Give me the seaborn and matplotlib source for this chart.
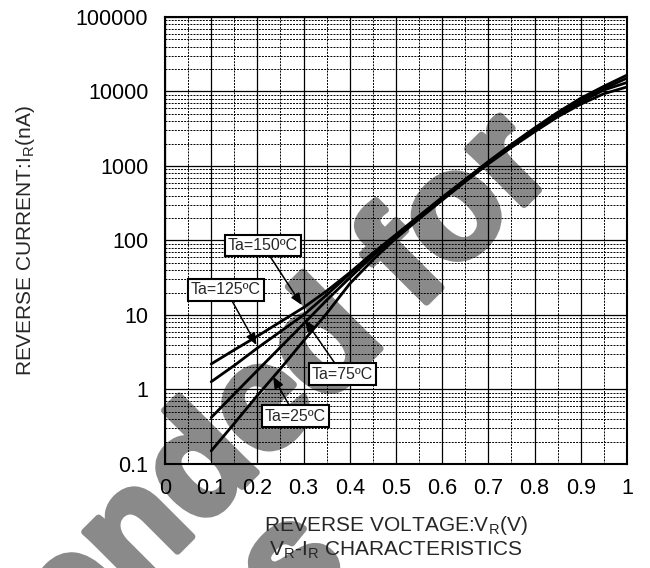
import seaborn as sns
import matplotlib.pyplot as plt
import matplotlib.patheffects as pe
import pandas as pd
import numpy as np
from matplotlib.ticker import MultipleLocator, LogLocator, FuncFormatter, NullFormatter

sns.set_style("white")
plt.rcParams['font.family'] = ['Liberation Sans', 'DejaVu Sans']
plt.rcParams['mathtext.fontset'] = 'custom'
plt.rcParams['mathtext.rm'] = 'Liberation Sans'

# reverse voltage (V) and reverse current (nA)
vr = [0.1, 0.15, 0.2, 0.25, 0.3, 0.35, 0.4, 0.45, 0.5, 0.55,
      0.6, 0.65, 0.7, 0.75, 0.8, 0.85, 0.9, 0.95, 1.0]
ir_150 = [2.2, 3.4, 5.2, 8.1, 12.6, 21, 37, 68, 120, 214,
          380, 660, 1150, 1950, 3240, 5250, 8130, 11750, 16600]
ir_125 = [1.27, 2.1, 3.6, 6.0, 10.0, 18.6, 35.5, 65, 117, 209,
          372, 646, 1120, 1900, 3090, 5010, 7590, 10960, 15100]
ir_75 = [0.42, 0.87, 1.8, 3.7, 7.6, 15.8, 31.6, 62, 112, 204,
         363, 631, 1100, 1860, 3020, 4790, 7240, 10470, 13200]
ir_25 = [0.15, 0.35, 0.83, 1.9, 4.5, 10.5, 26.3, 55, 107, 195,
         347, 617, 1070, 1780, 2880, 4570, 6760, 9330, 11500]

temps = ["Ta=150ºC", "Ta=125ºC", "Ta=75ºC", "Ta=25ºC"]
df = pd.concat([
    pd.DataFrame({"VR": vr, "IR": ir, "Ta": t})
    for t, ir in zip(temps, [ir_150, ir_125, ir_75, ir_25])
])

fig = plt.figure(figsize=(6.5, 5.68), dpi=100)
ax = fig.add_axes([0.2538, 0.1831, 0.7108, 0.787])
ax.set_facecolor("none")

# watermark behind the grid
wm = dict(fontsize=108, fontweight="bold", color="#8a8a8a", rotation=45,
          rotation_mode="anchor", ha="right", va="baseline", zorder=-5,
          family="Liberation Sans",
          path_effects=[pe.withStroke(linewidth=5, foreground="#8a8a8a")])
fig.text(0.858, 0.699, "Not Recommended for", **wm)
fig.text(0.54, 0.005, "New Designs", **wm)

sns.lineplot(data=df, x="VR", y="IR", hue="Ta", units="Ta", estimator=None,
             palette=["black"] * 4, linewidth=2, legend=False, ax=ax,
             zorder=3)

ax.set_yscale("log")
ax.set_xlim(0, 1)
ax.set_ylim(0.1, 100000)
ax.xaxis.set_major_locator(MultipleLocator(0.1))
ax.xaxis.set_minor_locator(MultipleLocator(0.05))
ax.yaxis.set_major_locator(LogLocator(base=10))
ax.yaxis.set_minor_locator(LogLocator(base=10, subs=np.arange(2, 10)))
ax.xaxis.set_major_formatter(FuncFormatter(lambda v, p: "%g" % round(v, 2)))
ax.yaxis.set_major_formatter(FuncFormatter(lambda v, p: "%g" % v))
ax.yaxis.set_minor_formatter(NullFormatter())

ax.grid(which="major", color="black", linewidth=0.9, linestyle="-")
ax.grid(which="minor", color="black", linewidth=0.7, linestyle=(0, (2, 1.2)))
ax.set_axisbelow(True)
for s in ax.spines.values():
    s.set_linewidth(1.5)
    s.set_color("black")
ax.tick_params(which="both", length=0, labelsize=15.5, colors="black")
ax.tick_params(axis="y", pad=12)
ax.tick_params(axis="x", pad=10)

ax.set_xlabel(r"REVERSE VOLTAGE:V$_\mathrm{R}$(V)", fontsize=15, labelpad=11)
ax.set_ylabel(r"REVERSE CURRENT:I$_\mathrm{R}$(nA)", fontsize=15, labelpad=28)
fig.text(0.609, 0.031, r"V$_\mathrm{R}$-I$_\mathrm{R}$ CHARACTERISTICS",
         fontsize=15, ha="center", va="center")

# curve labels
box = dict(boxstyle="square,pad=0.2", fc="white", ec="black", lw=1.5)
arrow = dict(arrowstyle="-|>,head_length=0.6,head_width=0.25", color="black",
             lw=1.1, shrinkA=0, shrinkB=0)
labels = [
    ("Ta=150ºC", (0.296, 13.6), (0.212, 85.7)),
    ("Ta=125ºC", (0.198, 3.96), (0.132, 21.7)),
    ("Ta=75ºC", (0.303, 8.57), (0.384, 1.61)),
    ("Ta=25ºC", (0.234, 1.49), (0.282, 0.44)),
]
for txt, xy, xyt in labels:
    ax.annotate(txt, xy=xy, xytext=xyt, fontsize=11.5, ha="center", va="center",
                bbox=box, arrowprops=arrow, zorder=5)

fig.savefig("out.png", dpi=100)
plt.close()
